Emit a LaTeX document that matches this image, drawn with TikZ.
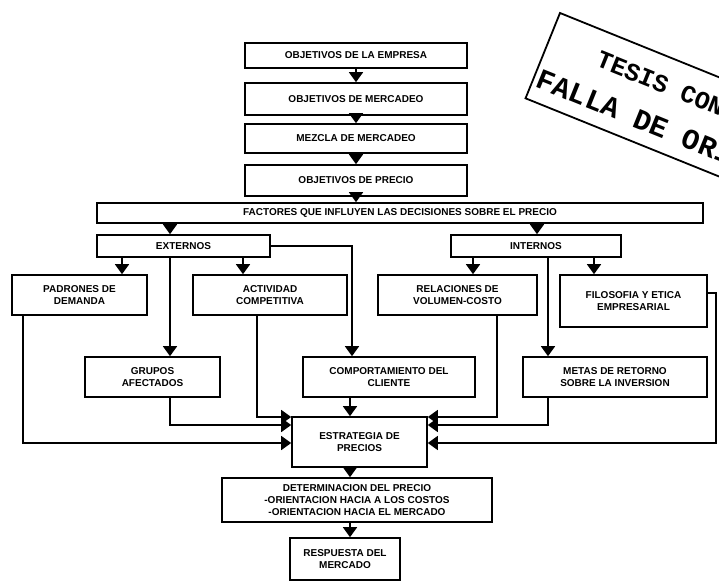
\documentclass[tikz,border=0pt]{standalone}
\usepackage{fontspec}
\setmainfont{Liberation Sans}
\setmonofont{Liberation Mono}
\usetikzlibrary{arrows.meta}

\begin{document}
\begin{tikzpicture}[x=1pt, y=-1pt,
    caja/.style={draw, line width=1.6pt, rectangle, inner sep=1pt, align=center,
      font=\bfseries\fontsize{10}{12}\selectfont},
    flecha/.style={line width=1.5pt, -{Triangle[width=14pt,length=10pt]}},
    sello/.style={inner sep=0pt, font=\ttfamily\bfseries\fontsize{25}{25}\selectfont}]
  \useasboundingbox (0,0) rectangle (719,588);

  % cadena de objetivos
  \node[caja, minimum width=222, minimum height=25] (emp) at (356,55.5) {OBJETIVOS DE LA EMPRESA};
  \node[caja, minimum width=222, minimum height=32] (mer) at (356,99) {OBJETIVOS DE MERCADEO};
  \node[caja, minimum width=222, minimum height=29] (mez) at (356,138.5) {MEZCLA DE MERCADEO};
  \node[caja, minimum width=222, minimum height=31] (pre) at (356,180.5) {OBJETIVOS DE PRECIO};
  \node[caja, minimum width=606, minimum height=20] (fac) at (400,213) {FACTORES QUE INFLUYEN LAS DECISIONES SOBRE EL PRECIO};
  \node[caja, minimum width=173, minimum height=22] (ext) at (183.5,246) {EXTERNOS};
  \node[caja, minimum width=170, minimum height=22] (int) at (536,246) {INTERNOS};

  % factores
  \node[caja, minimum width=135, minimum height=40] (pad) at (79.5,295) {PADRONES DE\\DEMANDA};
  \node[caja, minimum width=154, minimum height=40] (act) at (270,295) {ACTIVIDAD\\COMPETITIVA};
  \node[caja, minimum width=159, minimum height=40] (rel) at (457.5,295) {RELACIONES DE\\VOLUMEN-COSTO};
  \node[caja, minimum width=147, minimum height=52] (fil) at (633.5,301) {FILOSOFIA Y ETICA\\EMPRESARIAL};
  \node[caja, minimum width=135, minimum height=40] (gru) at (152.5,377) {GRUPOS\\AFECTADOS};
  \node[caja, minimum width=172, minimum height=40] (com) at (389,377) {COMPORTAMIENTO DEL\\CLIENTE};
  \node[caja, minimum width=184, minimum height=40] (met) at (615,377) {METAS DE RETORNO\\SOBRE LA INVERSION};

  % salida
  \node[caja, minimum width=135, minimum height=50] (est) at (359.5,442) {ESTRATEGIA DE\\PRECIOS};
  \node[caja, minimum width=270, minimum height=44] (det) at (357,500) {DETERMINACION DEL PRECIO\\-ORIENTACION HACIA A LOS COSTOS\\-ORIENTACION HACIA EL MERCADO};
  \node[caja, minimum width=110, minimum height=42] (res) at (345,559) {RESPUESTA DEL\\MERCADO};

  \draw[flecha] (emp) -- (mer);
  \draw[flecha] (mer) -- (mez);
  \draw[flecha] (mez) -- (pre);
  \draw[flecha] (pre.south) -- (pre.south |- fac.north);
  \draw[flecha] (fac.south -| 170,0) -- (ext.north -| 170,0);
  \draw[flecha] (fac.south -| 537,0) -- (int.north -| 537,0);

  \draw[flecha] (ext.south -| 122,0) -- (pad.north -| 122,0);
  \draw[flecha] (ext.south -| 170,0) -- (gru.north -| 170,0);
  \draw[flecha] (ext.south -| 243,0) -- (act.north -| 243,0);
  \draw[flecha] (ext.east) -| (com.north -| 352,0);
  \draw[flecha] (int.south -| 473,0) -- (rel.north -| 473,0);
  \draw[flecha] (int.south -| 548,0) -- (met.north -| 548,0);
  \draw[flecha] (int.south -| 594,0) -- (fil.north -| 594,0);

  % hacia la estrategia
  \draw[flecha] (act.south -| 257,0) |- (est.west |- 0,417);
  \draw[flecha] (gru.south -| 170,0) |- (est.west |- 0,425);
  \draw[flecha] (pad.south -| 23,0) |- (est.west |- 0,443);
  \draw[flecha] (com.south -| 350,0) -- (est.north -| 350,0);
  \draw[flecha] (rel.south -| 497,0) |- (est.east |- 0,417);
  \draw[flecha] (met.south -| 548,0) |- (est.east |- 0,425);
  \coordinate (borde) at (716,293);
  \draw[flecha] (fil.east |- borde) -- (borde) |- (est.east |- 0,443);

  \draw[flecha] (est.south -| 350,0) -- (det.north -| 350,0);
  \draw[flecha] (det.south -| 350,0) -- (res.north -| 350,0);

  % sello
  \begin{scope}[shift={(560,13)}, rotate=-22, transform shape]
    \draw[line width=1.8pt] (0,0) rectangle (300,92);
    \node[sello, anchor=base west] (tesis) at (52,36) {TESIS CON};
    \node[sello, anchor=base west, font=\ttfamily\bfseries\fontsize{29}{29}\selectfont] (falla) at (4,78) {FALLA DE ORIGEN};
  \end{scope}
\end{tikzpicture}
\end{document}
